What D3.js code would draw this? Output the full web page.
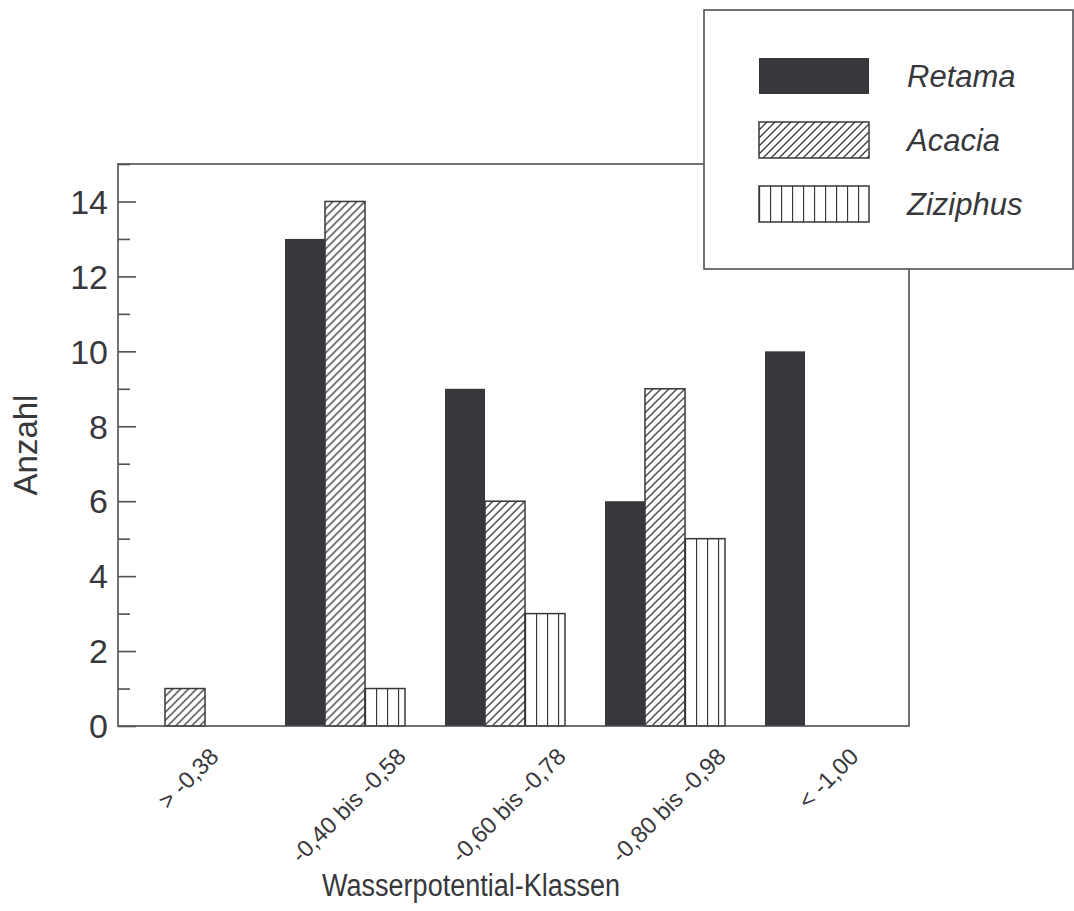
<!DOCTYPE html>
<html>
<head>
<meta charset="utf-8">
<script src="https://cdn.jsdelivr.net/npm/d3@7"></script>
<style>
  html, body { margin: 0; padding: 0; background: #fff; }
  svg { display: block; font-family: Arial, "Liberation Sans", Helvetica, sans-serif; }
</style>
</head>
<body>
<svg id="chart" width="1074" height="911"></svg>
<script>
// ---- Data ----
const categories = ["> -0,38", "-0,40 bis -0,58", "-0,60 bis -0,78", "-0,80 bis -0,98", "< -1,00"];
const seriesNames = ["Retama", "Acacia", "Ziziphus"];
const retama   = [0, 13, 9, 6, 10];
const acacia   = [1, 14, 6, 9, 0];
const ziziphus = [0, 1, 3, 5, 0];
const yTicksMajor = [0, 2, 4, 6, 8, 10, 12, 14];
const yTicksMinor = [1, 3, 5, 7, 9, 11, 13, 15];
const yTitle = "Anzahl";
const xTitle = "Wasserpotential-Klassen";

const seriesValues = [retama, acacia, ziziphus];

// ---- Layout ----
const ink = "#38383c";
const plot = { left: 118, top: 164, right: 909, bottom: 726 };

const svg = d3.select("#chart");

const defs = svg.append("defs");
// Acacia: diagonal hatch "/"
const hatch = defs.append("pattern")
  .attr("id", "hatch").attr("patternUnits", "userSpaceOnUse")
  .attr("width", 8).attr("height", 8);
hatch.append("rect").attr("width", 8).attr("height", 8).attr("fill", "#fff");
hatch.append("path").attr("d", "M-2,2 L2,-2 M0,8 L8,0 M6,10 L10,6")
  .attr("stroke", ink).attr("stroke-width", 1.3).attr("fill", "none");
// Ziziphus: vertical lines
const vert = defs.append("pattern")
  .attr("id", "vert").attr("patternUnits", "userSpaceOnUse")
  .attr("width", 11).attr("height", 10);
vert.append("rect").attr("width", 11).attr("height", 10).attr("fill", "#fff");
vert.append("line").attr("x1", 0.5).attr("x2", 0.5).attr("y1", 0).attr("y2", 10)
  .attr("stroke", ink).attr("stroke-width", 1.3);

const fills = ["solid", "url(#hatch)", "url(#vert)"];

// ---- Scales ----
const x0 = d3.scaleBand().domain(categories).range([125, 885]).paddingInner(0.25).paddingOuter(0);
const x1 = d3.scaleBand().domain(seriesNames).range([0, x0.bandwidth()]).padding(0);
const y = d3.scaleLinear().domain([0, 15]).range([plot.bottom, plot.top]);

// ---- Bars ----
const barData = [];
categories.forEach((c, i) => {
  seriesNames.forEach((s, j) => {
    const v = seriesValues[j][i];
    if (v > 0) barData.push({ c, s, j, v });
  });
});

const bars = svg.append("g").selectAll("g").data(barData).join("g")
  .attr("transform", d => `translate(${x0(d.c) + x1(d.s)},${y(d.v)})`);
bars.append("rect")
  .attr("x", 0).attr("y", 0)
  .attr("width", x1.bandwidth())
  .attr("height", d => y(0) - y(d.v))
  .attr("fill", d => d.j === 0 ? ink : fills[d.j])
  .attr("stroke", ink)
  .attr("stroke-width", d => d.j === 0 ? 0 : 1.5);

// ---- Frame ----
svg.append("rect")
  .attr("x", plot.left).attr("y", plot.top)
  .attr("width", plot.right - plot.left).attr("height", plot.bottom - plot.top)
  .attr("fill", "none").attr("stroke", "#505055").attr("stroke-width", 1.6);

// ---- Y axis (inward ticks) ----
const yAxisMajor = d3.axisRight(y).tickValues(yTicksMajor).tickSize(18).tickFormat("");
const gMaj = svg.append("g").attr("transform", `translate(${plot.left},0)`).call(yAxisMajor);
gMaj.select(".domain").remove();
gMaj.selectAll(".tick line").attr("stroke", "#505055").attr("stroke-width", 1.6);

const yAxisMinor = d3.axisRight(y).tickValues(yTicksMinor).tickSize(12).tickFormat("");
const gMin = svg.append("g").attr("transform", `translate(${plot.left},0)`).call(yAxisMinor);
gMin.select(".domain").remove();
gMin.selectAll(".tick line").attr("stroke", "#505055").attr("stroke-width", 1.6);

svg.append("g").selectAll("text").data(yTicksMajor).join("text")
  .attr("x", plot.left - 10)
  .attr("y", d => y(d))
  .attr("dy", "0.36em")
  .attr("text-anchor", "end")
  .attr("font-size", 34)
  .attr("fill", ink)
  .text(d => d);

// ---- X tick labels (rotated -45) ----
const xl = svg.append("g").selectAll("text").data(categories).join("text")
  .attr("text-anchor", "end")
  .attr("font-size", 23.5)
  .attr("fill", ink)
  .text(d => d);
xl.each(function(d) {
  const L = this.getComputedTextLength();
  const cx = x0(d) + x0.bandwidth() / 2;
  const ex = cx + 9 + L * 0.3536;
  const ey = 758;
  d3.select(this).attr("transform", `translate(${ex},${ey}) rotate(-45)`);
});

// ---- Axis titles ----
svg.append("text")
  .attr("transform", `translate(37,445) rotate(-90)`)
  .attr("text-anchor", "middle")
  .attr("font-size", 33)
  .attr("fill", ink)
  .text(yTitle);

svg.append("text")
  .attr("x", 471).attr("y", 896)
  .attr("text-anchor", "middle")
  .attr("font-size", 31)
  .attr("textLength", 298)
  .attr("lengthAdjust", "spacingAndGlyphs")
  .attr("fill", ink)
  .text(xTitle);

// ---- Legend ----
const lg = svg.append("g");
lg.append("rect")
  .attr("x", 704).attr("y", 10).attr("width", 369).attr("height", 259)
  .attr("fill", "#fff").attr("stroke", "#505055").attr("stroke-width", 1.6);
const items = lg.selectAll("g.item").data(seriesNames).join("g")
  .attr("class", "item")
  .attr("transform", (d, i) => `translate(759,${58 + i * 64})`);
items.append("rect")
  .attr("width", 110).attr("height", 36)
  .attr("fill", (d, i) => i === 0 ? ink : fills[i])
  .attr("stroke", ink)
  .attr("stroke-width", (d, i) => i === 0 ? 0 : 1.5);
items.append("text")
  .attr("x", 148).attr("y", 29)
  .attr("font-size", 31)
  .attr("font-style", "italic")
  .attr("fill", ink)
  .text(d => d);
</script>
</body>
</html>
